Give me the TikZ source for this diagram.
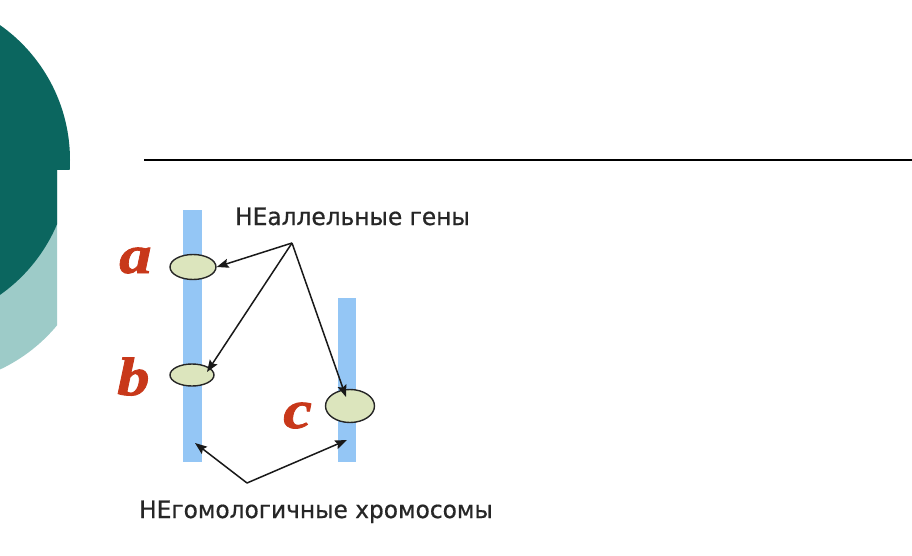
\documentclass[tikz,border=0pt]{standalone}
\usepackage{fontspec}
\setmainfont{DejaVu Sans}
\newfontfamily\capfont[FakeStretch=0.97,FakeBold=0.6]{DejaVu Sans}
\newfontfamily\letterfont[BoldItalicFeatures={FakeBold=1.5,FakeStretch=1.2}]{Liberation Serif}
\usetikzlibrary{shapes.geometric,arrows.meta}
\definecolor{darkteal}{HTML}{0B665F}
\definecolor{lightteal}{HTML}{9DCBC8}
\definecolor{barblue}{HTML}{94C6F5}
\definecolor{genefill}{HTML}{DCE5BD}
\definecolor{letterred}{HTML}{C8381A}
\tikzset{
  gene/.style={ellipse, draw=black!85, line width=1.4pt, fill=genefill, inner sep=0pt},
  bar/.style={rectangle, fill=barblue, inner sep=0pt},
  arr/.style={-{Stealth[length=12pt,width=9pt,inset=2pt]}, line width=1.5pt, black!90},
  lbl/.style={font=\letterfont\bfseries\itshape\fontsize{54}{54}\selectfont, text=letterred, inner sep=0pt, anchor=base west},
  caption/.style={font=\capfont\fontsize{24}{26}\selectfont, text=black!85, inner sep=0pt, anchor=base west}
}
\begin{document}
\begin{tikzpicture}[x=1pt,y=-1pt]
\useasboundingbox (0,0) rectangle (912,556);
\fill[white] (0,0) rectangle (912,556);
% background decoration
\begin{scope}
  \clip (0,0) rectangle (57,556);
  \fill[lightteal] (-70,220) circle (165);
\end{scope}
\begin{scope}
  \clip (0,0) -- (120,0) -- (120,170) -- (57,170) -- (57,556) -- (0,556) -- cycle;
  \fill[darkteal] (-95,160) circle (165);
\end{scope}
% title rule
\coordinate (l1) at (144,160);
\coordinate (l2) at (912,160);
\draw[line width=1.5pt, black] (l1) -- (l2);
% chromosomes
\node[bar, minimum width=19pt, minimum height=252pt] (bar1) at (192.5,336) {};
\node[bar, minimum width=18pt, minimum height=164pt] (bar2) at (347,380) {};
% genes
\node[gene, minimum width=46pt, minimum height=25pt] (ea) at (193,267) {};
\node[gene, minimum width=44pt, minimum height=22pt] (eb) at (192,375) {};
\node[gene, minimum width=49pt, minimum height=33pt] (ec) at (350,406) {};
% letters
\node[lbl] (la) at (119,273) {a};
\node[lbl] (lb) at (117,395) {b};
\node[lbl] (lc) at (283,428) {c};
% captions
\node[caption] (t1) at (235,225) {НЕаллельные гены};
\node[caption] (t2) at (139,518) {НЕгомологичные хромосомы};
% arrows
\coordinate (j1) at (292,243);
\coordinate (j2) at (247,483);
\coordinate (tb) at (207,372);
\coordinate (tc) at (346,397);
\coordinate (tl) at (195,443);
\coordinate (tr) at (347,440);
\draw[arr] (j1) -- (ea.east);
\draw[arr] (j1) -- (tb);
\draw[arr] (j1) -- (tc);
\draw[arr] (j2) -- (tl);
\draw[arr] (j2) -- (tr);
\end{tikzpicture}
\end{document}
